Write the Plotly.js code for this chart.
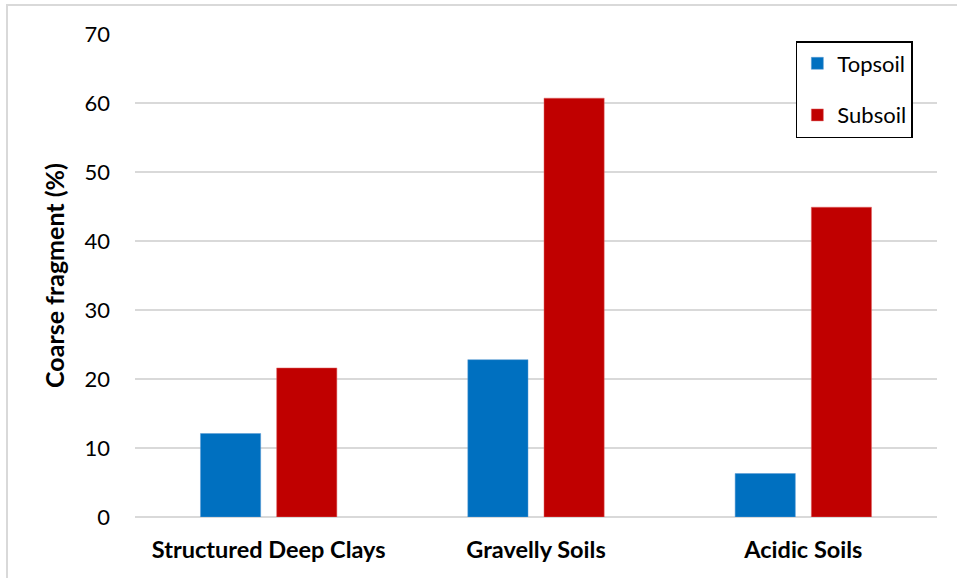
<!DOCTYPE html>
<html>
<head>
<meta charset="utf-8">
<script src="https://cdn.plot.ly/plotly-3.0.1.min.js"></script>
<style>
  html, body { margin: 0; padding: 0; background: #fff; }
  #wrap { position: relative; width: 957px; height: 578px; }
  #chart { position: absolute; left: 0; top: 0; width: 957px; height: 578px; }
  #frame { position: absolute; left: 6px; top: 4px; right: 0; bottom: 0;
           border-left: 2px solid #d9d9d9; border-top: 2px solid #d9d9d9;
           pointer-events: none; }
</style>
</head>
<body>
<div id="wrap">
  <div id="chart"></div>
  <div id="frame"></div>
</div>
<script>
// Coarse fragment content by soil group
const categories = ["Structured Deep Clays", "Gravelly Soils", "Acidic Soils"];
const topsoil = [12.1, 22.8, 6.3];
const subsoil = [21.6, 60.7, 44.9];
const yTicks = [0, 10, 20, 30, 40, 50, 60, 70];

const FONT = "Lato, 'Open Sans', sans-serif";

const traces = [
  { type: "bar", name: "Topsoil", x: categories, y: topsoil,
    marker: { color: "#0070c0", line: { color: "#5b9bd5", width: 0.5 } },
    legendgroup: "a", hoverinfo: "y" },
  { type: "bar", name: "Subsoil", x: categories, y: subsoil,
    marker: { color: "#c00000", line: { color: "#e06666", width: 0.5 } },
    legendgroup: "b", hoverinfo: "y" }
];

const layout = {
  width: 957, height: 578,
  margin: { l: 135, r: 20, t: 34, b: 61 },
  paper_bgcolor: "#fff", plot_bgcolor: "#fff",
  barmode: "group", bargap: 0.43, bargroupgap: 0.21,
  font: { family: FONT, color: "#000" },
  xaxis: {
    showgrid: false, zeroline: false, showline: false, ticks: "",
    ticklabelstandoff: 16,
    tickfont: { family: FONT, size: 23.5, weight: 700, color: "#000" },
    fixedrange: true
  },
  yaxis: {
    range: [0, 70], tickvals: yTicks, ticktext: yTicks.map(String),
    showgrid: true, gridcolor: "#d9d9d9", gridwidth: 1.5,
    zeroline: true, zerolinecolor: "#d9d9d9", zerolinewidth: 1.5,
    showline: false, ticks: "", ticklabelstandoff: 24,
    tickfont: { family: FONT, size: 22, color: "#000" },
    title: { text: "<b>Coarse fragment (%)</b>", standoff: 12,
             font: { family: FONT, size: 25, color: "#000" } },
    fixedrange: true
  },
  legend: {
    x: 0.824, y: 0.9855, xanchor: "left", yanchor: "top",
    bgcolor: "#fff", bordercolor: "#000", borderwidth: 1.5,
    font: { family: FONT, size: 22, color: "#000" },
    traceorder: "grouped", tracegroupgap: 20,
    itemwidth: 30
  },
  showlegend: true
};

Plotly.newPlot("chart", traces, layout, { displayModeBar: false, staticPlot: true });
</script>
</body>
</html>
